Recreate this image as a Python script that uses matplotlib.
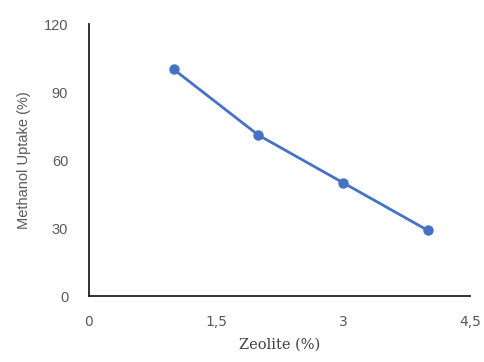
import numpy as np
import matplotlib
matplotlib.use("Agg")
from matplotlib import pyplot as plt

# zeolite loading vs methanol uptake
zeolite = [1, 2, 3, 4]
uptake = [100, 71, 50, 29]
xticks = [0, 1.5, 3, 4.5]
xtick_labels = ["0", "1,5", "3", "4,5"]
yticks = [0, 30, 60, 90, 120]

fig = plt.figure(figsize=(4.85, 3.62), dpi=100)
fig.patch.set_facecolor("white")

ax = fig.add_axes([0.1835, 0.1823, 0.7855, 0.7514])
ax.plot(zeolite, uptake, color="#4472C4", lw=2, marker="o", ms=6.5, zorder=3)

ax.set_xlim(0, 4.5)
ax.set_ylim(0, 120)
ax.set_xticks(xticks)
ax.set_xticklabels(xtick_labels)
ax.set_yticks(yticks)
for s in ["top", "right"]:
    ax.spines[s].set_visible(False)
for s in ["left", "bottom"]:
    ax.spines[s].set_color("#222222")
    ax.spines[s].set_linewidth(1.3)
ax.tick_params(length=0, colors="#595959", labelsize=10)
ax.tick_params(axis="x", pad=14)
ax.tick_params(axis="y", pad=15, labelsize=10.5)
for lab in ax.get_yticklabels():
    lab.set_family("Liberation Sans")

ax.set_ylabel("Methanol Uptake (%)", color="#595959", fontsize=10.5,
              family="Liberation Sans", labelpad=9)
ax.set_xlabel("Zeolite (%)", color="#404040", fontsize=10.5,
              family="DejaVu Serif", labelpad=6)

fig.savefig("out.png", dpi=100)
